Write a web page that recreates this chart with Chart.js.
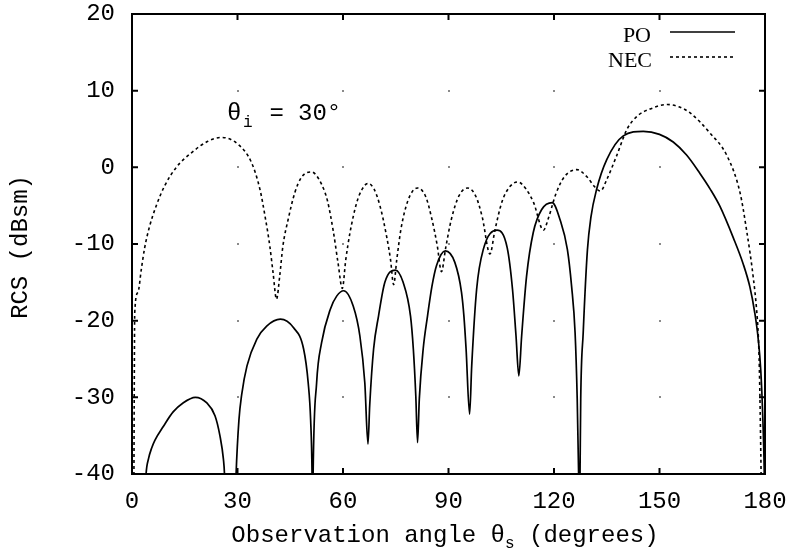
<!DOCTYPE html>
<html><head><meta charset="utf-8">
<script src="https://cdn.jsdelivr.net/npm/chart.js@4"></script>
<style>html,body{margin:0;padding:0;background:#fff;}#wrap{width:791px;height:552px;}</style>
</head><body><div id="wrap"><canvas id="c" width="791" height="552"></canvas></div>
<script>
const xTicks = [0, 30, 60, 90, 120, 150, 180];
const yTicks = [20, 10, 0, -10, -20, -30, -40];
const seriesNames = ['PO', 'NEC'];

const poTheta = [0,3.5,4.0,4.7,5.6,6.5,8.9,11.7,14.6,18,21.2,23.6,25.0,26.0,26.3,26.8,29.1,29.6,30.4,31.2,32.7,35.5,38.3,42.2,45.9,48.8,50.1,50.8,51.2,51.35,51.5,52.5,53.9,56.4,58.2,60.2,62.9,64.8,66.2,67.1,67.6,68.7,70.1,71.9,74.9,77.1,79.2,80.0,80.7,81.2,81.7,82.8,84.0,85.3,86.6,89.1,91.8,93.7,94.4,95.0,96.0,96.6,98.0,99.9,103.8,106.7,108.2,109.2,110.0,110.8,112.2,114.1,116.5,119.5,121.7,123.8,125.0,126.0,126.6,127.0,127.2,127.4,127.6,128.3,129.5,130.5,132.1,135.0,139.7,145.4,150,153.9,157.7,161.5,164.5,167.2,171,173.8,175.7,177.1,178.1,178.8,179.4,179.8,180];
const poRCS = [-60,-45,-40,-38.0,-36.6,-35.6,-33.8,-31.9,-30.7,-30.0,-30.7,-32.4,-35.0,-38.1,-40,-48,-48,-40,-33.0,-29.6,-25.9,-22.4,-20.7,-19.8,-20.9,-23.7,-28.1,-33,-40,-48,-40,-28.1,-22.9,-18.5,-16.8,-16.1,-18.1,-22.0,-28.1,-36.1,-31,-23.7,-19.4,-15.0,-13.4,-15.0,-19.4,-23.7,-29.8,-35.9,-30.2,-23.7,-19.5,-15.5,-12.8,-10.9,-12.4,-16.3,-19.5,-23.7,-32.2,-25.9,-15.9,-10.7,-8.2,-10.5,-15.9,-22.0,-27.2,-22.0,-14.2,-8.5,-5.5,-4.6,-6.8,-10.7,-15.5,-21.6,-30.2,-40,-48,-40,-30.2,-21.6,-10.8,-6.5,-2.9,1.0,4.1,4.7,4.3,3.3,1.6,-0.8,-2.9,-5.1,-9.2,-12.6,-15.6,-19.0,-22.5,-26.5,-33,-40,-48];

const necTheta = [0.4,0.55,0.65,0.77,1.7,2.65,3.6,5,6.9,9.3,12.6,16.9,21.6,25.4,30.2,34,36.4,37.8,39.2,40.1,41.1,42,42.9,44.4,46.3,48.2,51,53.9,55.6,57.3,58.6,59.8,60.8,62,63.9,65.5,67.1,68.8,70.5,72.4,73.5,74.4,75.3,76.5,78.5,81.1,83.5,85.3,86.8,88,89.2,90.8,93,95.5,97.8,99.6,101.8,103.2,105.2,107.3,109.7,112,114.2,117,118.5,120.5,123,126.5,129.5,131.5,133.2,135,137.8,140.8,144,147.3,152.2,155.5,158.7,164.3,169.2,172.9,174.8,176.7,177.6,178.1,178.4,178.8,179.1];
const necRCS = [-55,-40,-28,-19,-16.3,-13.3,-10.5,-7.7,-5,-2.4,0,1.9,3.4,3.9,3.0,0.6,-2.9,-6.3,-10.3,-13.7,-17.2,-14.2,-10.3,-6.8,-3.3,-1.3,-0.6,-2.2,-4.4,-8.5,-12.5,-15.8,-12,-8.5,-4.6,-2.8,-2.1,-2.8,-5.0,-9.0,-12,-15.3,-12,-8,-4.3,-2.7,-3.8,-6.8,-10.2,-13.6,-10.5,-6.8,-3.7,-2.7,-3.8,-6.5,-11.3,-8.2,-4.5,-2.6,-1.9,-2.8,-4.6,-8.2,-6.5,-3.5,-1.2,-0.3,-1.3,-2.5,-3.1,-1.6,1.5,5.0,6.8,7.6,8.2,7.9,7.1,4.5,1.5,-3.3,-8.3,-14.5,-18.5,-22,-26.3,-37,-48];

const MONO = '"Liberation Mono", "DejaVu Sans Mono", monospace';
const SERIF = '"Liberation Serif", "DejaVu Serif", serif';

const deco = {
  id: 'deco',
  afterDatasetsDraw(chart) {
    const { ctx, chartArea: a, scales: { x, y } } = chart;
    ctx.save();
    // grid intersection dots
    ctx.fillStyle = '#8a8a8a';
    for (const tx of xTicks) for (const ty of yTicks) {
      if (tx === xTicks[0] || tx === xTicks[xTicks.length - 1] || ty === yTicks[0] || ty === yTicks[yTicks.length - 1]) continue;
      ctx.fillRect(Math.round(x.getPixelForValue(tx)) - 1, Math.round(y.getPixelForValue(ty)) - 1, 2, 2);
    }
    // frame
    ctx.strokeStyle = '#000';
    ctx.lineWidth = 2;
    ctx.strokeRect(a.left, a.top, a.right - a.left, a.bottom - a.top);
    // inward ticks on all sides
    ctx.beginPath();
    for (const tx of xTicks) {
      const px = x.getPixelForValue(tx);
      ctx.moveTo(px, a.bottom); ctx.lineTo(px, a.bottom - 6);
      ctx.moveTo(px, a.top); ctx.lineTo(px, a.top + 6);
    }
    for (const ty of yTicks) {
      const py = y.getPixelForValue(ty);
      ctx.moveTo(a.left, py); ctx.lineTo(a.left + 6, py);
      ctx.moveTo(a.right, py); ctx.lineTo(a.right - 6, py);
    }
    ctx.stroke();

    // legend
    ctx.fillStyle = '#000';
    ctx.font = '22px ' + SERIF;
    ctx.textAlign = 'right';
    ctx.textBaseline = 'alphabetic';
    ctx.fillText(seriesNames[0], 651, 42);
    ctx.fillText(seriesNames[1], 652, 67);
    ctx.lineWidth = 1.6;
    ctx.beginPath(); ctx.moveTo(670, 32); ctx.lineTo(735, 32); ctx.stroke();
    ctx.setLineDash([3, 3]);
    ctx.beginPath(); ctx.moveTo(670, 57); ctx.lineTo(735, 57); ctx.stroke();
    ctx.setLineDash([]);

    // annotation θi = 30°
    ctx.textAlign = 'left';
    ctx.font = '24px ' + MONO;
    ctx.fillText('θ', 227, 120);
    ctx.font = '16px ' + MONO;
    ctx.fillText('i', 243, 127);
    ctx.font = '24px ' + MONO;
    ctx.fillText('=', 269.5, 120);
    ctx.fillText('30°', 298, 120);

    // x axis title with subscript
    const p1 = 'Observation angle θ', p2 = 's', p3 = ' (degrees)';
    ctx.font = '24px ' + MONO; const w1 = ctx.measureText(p1).width, w3 = ctx.measureText(p3).width;
    ctx.font = '16px ' + MONO; const w2 = ctx.measureText(p2).width;
    const sx = 445 - (w1 + w2 + w3) / 2;
    ctx.font = '24px ' + MONO; ctx.fillText(p1, sx, 542);
    ctx.font = '16px ' + MONO; ctx.fillText(p2, sx + w1, 548);
    ctx.font = '24px ' + MONO; ctx.fillText(p3, sx + w1 + w2, 542);

    // y axis title
    ctx.save();
    ctx.translate(21, 247);
    ctx.rotate(-Math.PI / 2);
    ctx.textAlign = 'center';
    ctx.textBaseline = 'middle';
    ctx.font = '24px ' + MONO;
    ctx.fillText('RCS (dBsm)', 0, 0);
    ctx.restore();
    ctx.restore();
  }
};

function noPad(s) { s.paddingLeft = 0; s.paddingRight = 0; s.paddingTop = 0; s.paddingBottom = 0; }

new Chart(document.getElementById('c'), {
  type: 'line',
  data: {
    datasets: [
      { label: seriesNames[0], data: poTheta.map((t, i) => ({ x: t, y: poRCS[i] })), borderColor: '#000', borderWidth: 1.7, pointRadius: 0, fill: false, cubicInterpolationMode: 'monotone' },
      { label: seriesNames[1], data: necTheta.map((t, i) => ({ x: t, y: necRCS[i] })), borderColor: '#000', borderWidth: 1.6, borderDash: [3, 3], pointRadius: 0, fill: false, cubicInterpolationMode: 'monotone' }
    ]
  },
  options: {
    responsive: false,
    animation: false,
    devicePixelRatio: 1,
    layout: { padding: { top: 14, right: 26, left: 0, bottom: 0 } },
    plugins: { legend: { display: false }, tooltip: { enabled: false } },
    scales: {
      x: {
        type: 'linear', min: 0, max: 180,
        afterBuildTicks: s => { s.ticks = xTicks.map(v => ({ value: v })); },
        afterFit: s => { s.height = 78; noPad(s); },
        grid: { display: false, drawTicks: false }, border: { display: false },
        ticks: { color: '#000', font: { family: MONO, size: 24 }, padding: 13, maxRotation: 0, autoSkip: false }
      },
      y: {
        type: 'linear', min: -40, max: 20,
        afterBuildTicks: s => { s.ticks = yTicks.map(v => ({ value: v })); },
        afterFit: s => { s.width = 132; noPad(s); },
        grid: { display: false, drawTicks: false }, border: { display: false },
        ticks: { color: '#000', font: { family: MONO, size: 24 }, padding: 17, autoSkip: false }
      }
    }
  },
  plugins: [deco]
});
</script>
</body></html>
